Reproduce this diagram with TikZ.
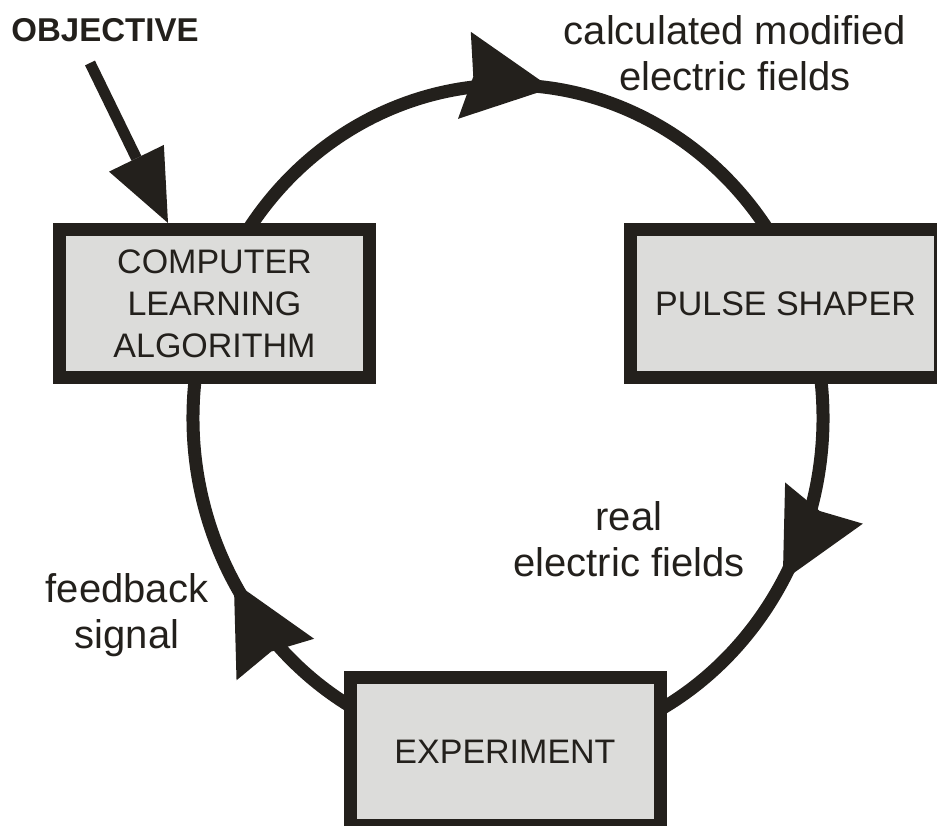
\documentclass[tikz,border=0pt]{standalone}
\usepackage{fontspec}
\setmainfont{Liberation Sans}
\usepackage{tikz}
\usetikzlibrary{arrows.meta,calc}
\usetikzlibrary{decorations.markings}
\definecolor{ink}{RGB}{35,32,28}
\definecolor{boxgray}{RGB}{220,220,218}

\begin{document}
\begin{tikzpicture}
		[x=1pt,y=1pt,every node/.style={text=ink},
		stage/.style={draw=ink,fill=boxgray,line width=13pt,minimum width=310pt,minimum height=148pt,inner sep=0pt,align=center,font=\fontsize{34}{42}\selectfont},
		lbl/.style={inner sep=0pt,align=center,font=\fontsize{40}{46}\selectfont},
		ring/.style={draw=ink,line width=13pt},
		ringtip/.style={decoration={markings,mark=at position #1 with {\arrow{Stealth[length=88pt,width=88pt,inset=9pt,line width=0pt]}}},postaction=decorate}]
		\useasboundingbox (0,0) rectangle (937,825);
		\clip (0,0) rectangle (937,825);
		\coordinate (c) at (508,407);
		% arcs of the loop, drawn under the boxes
		\foreach \a/\b/\p in {150/30/0.565,10/-65/0.53,245/170/0.467}
		\draw[ring,ringtip=\p]  ($(c)+(\a:315 and 333)$) arc[start angle=\a,end angle=\b,x radius=315,y radius=333];
		\node[stage] (comp)  at (214.5,521.5) {COMPUTER\\LEARNING\\ALGORITHM};
		\node[stage] (pulse) at (785.5,521.5) {PULSE SHAPER};
		\node[stage] (exper) at (505,73.5)    {EXPERIMENT};
		\node[lbl] (calc)  at (735,772) {calculated modified\\electric fields};
		\node[lbl] (real)  at (629,286) {real\\electric fields};
		\node[lbl] (feed)  at (127,210) {feedback\\signal};
		\node[inner sep=0pt,font=\fontsize{33}{40}\selectfont\bfseries] (obj) at (105,795) {OBJECTIVE};
		\coordinate (objtail) at (90,762);
		\draw[draw=ink,fill=ink,line width=11pt,-{Triangle[length=72pt,width=61pt,line width=0pt]}]  (objtail) -- ([xshift=115pt]comp.north west);
		%\node (front) at (-20,50) {};
	\end{tikzpicture}
\end{document}
